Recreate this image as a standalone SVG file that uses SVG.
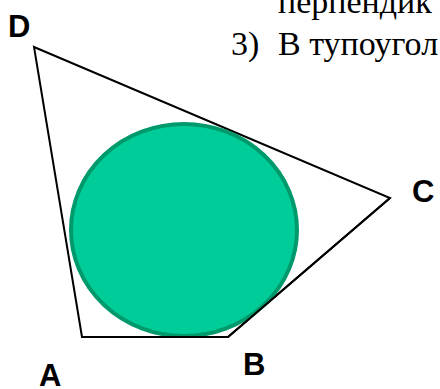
<svg xmlns="http://www.w3.org/2000/svg" width="440" height="389" viewBox="0 0 440 389">
<style>
.lbl{font-family:"Liberation Sans",Arial,sans-serif;font-weight:bold;font-size:31px;fill:#000}
.txt{font-family:"Liberation Serif","Times New Roman",serif;font-size:34px;fill:#000}
.edge{fill:none;stroke:#000;stroke-width:2;stroke-linejoin:miter}
</style>
<rect width="440" height="389" fill="#fff"/>
<g id="text">
<text class="txt" x="278" y="13">перпендик</text>
<text class="txt" x="231" y="55">3)</text>
<text class="txt" x="278" y="55">В тупоугол</text>
</g>
<g id="connectors">
<polygon class="edge" points="34,47 390,198 228,337 82,337"/>
</g>
<g id="circle">
<ellipse cx="184" cy="230" rx="113" ry="106" fill="#00CC99" stroke="#00996B" stroke-width="4"/>
</g>
<g id="edgeFront">
<path class="edge" d="M390,198 L228,337 L150,337"/>
</g>
<g id="D"><text class="lbl" x="8" y="37">D</text></g>
<g id="A"><text class="lbl" x="39" y="386">A</text></g>
<g id="B"><text class="lbl" x="243" y="375">B</text></g>
<g id="C"><text class="lbl" x="412" y="202">C</text></g>
</svg>
